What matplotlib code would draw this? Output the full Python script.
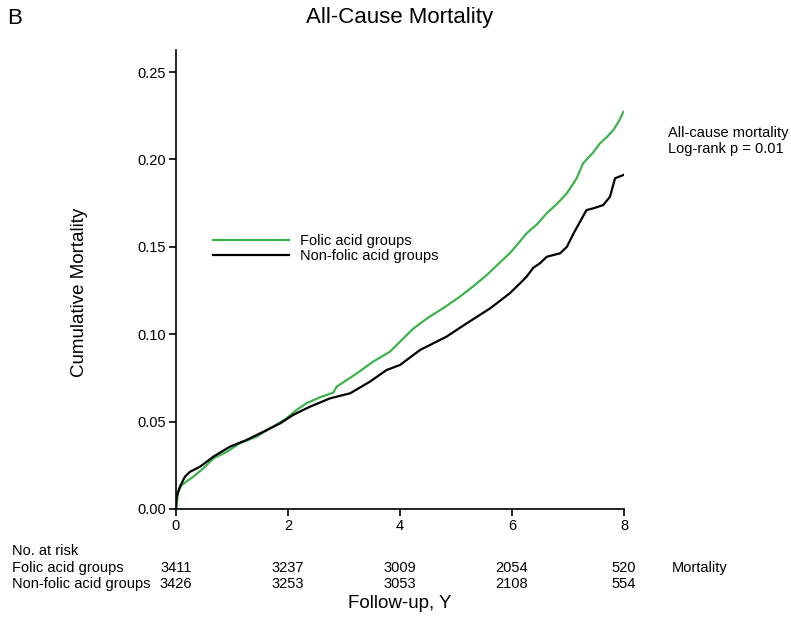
import matplotlib
matplotlib.use("Agg")
import matplotlib.pyplot as plt
import matplotlib.transforms as mtransforms

plt.rcParams['font.family'] = ['Liberation Sans', 'DejaVu Sans']

# follow-up (years) and cumulative mortality
folic_t = [0, 0.04, 0.10, 0.31, 0.49, 0.67, 0.91, 1.14, 1.44, 1.68, 1.95, 2.15,
           2.33, 2.57, 2.81, 2.87, 3.05, 3.23, 3.52, 3.82, 4.06, 4.23, 4.48, 4.80,
           5.07, 5.30, 5.55, 5.75, 5.96, 6.14, 6.26, 6.45, 6.62, 6.80, 6.98, 7.15,
           7.27, 7.45, 7.57, 7.70, 7.81, 7.92, 7.99]
folic_v = [0, 0.0099, 0.0137, 0.0185, 0.0233, 0.029, 0.0328, 0.0376, 0.0414, 0.0462,
           0.0513, 0.0566, 0.0605, 0.0639, 0.0666, 0.070, 0.0738, 0.0776, 0.0843,
           0.090, 0.0976, 0.1030, 0.109, 0.1155, 0.1215, 0.1272, 0.1339, 0.1400,
           0.1463, 0.1530, 0.1577, 0.1630, 0.1692, 0.1745, 0.1806, 0.1890, 0.1978,
           0.2040, 0.2092, 0.2130, 0.2168, 0.2225, 0.2273]

nonfolic_t = [0, 0.01, 0.07, 0.16, 0.25, 0.43, 0.67, 0.96, 1.26, 1.56, 1.86, 2.09,
              2.39, 2.75, 3.11, 3.46, 3.76, 4.00, 4.36, 4.83, 5.19, 5.61, 5.96, 6.14,
              6.26, 6.38, 6.50, 6.62, 6.86, 6.98, 7.10, 7.33, 7.45, 7.63, 7.75, 7.84,
              7.99]
nonfolic_v = [0, 0.007, 0.0128, 0.0185, 0.0213, 0.0242, 0.030, 0.0356, 0.0395,
              0.0442, 0.049, 0.0538, 0.0585, 0.0633, 0.0662, 0.0728, 0.0795, 0.0824,
              0.091, 0.0986, 0.1062, 0.1148, 0.1234, 0.129, 0.1329, 0.138, 0.1406,
              0.1443, 0.1463, 0.150, 0.1577, 0.171, 0.172, 0.1739, 0.1787, 0.1892,
              0.1911]

risk_times = [0, 2, 4, 6, 8]
risk_folic = [3411, 3237, 3009, 2054, 520]
risk_nonfolic = [3426, 3253, 3053, 2108, 554]

W, H = 791, 627
fig = plt.figure(figsize=(W / 100, H / 100), dpi=100)
ax = fig.add_axes([176 / W, 1 - 509 / H, (624 - 176) / W, (509 - 50) / H])

ax.plot(folic_t, folic_v, color='#3cb44b', lw=1.6, label='Folic acid groups')
ax.plot(nonfolic_t, nonfolic_v, color='black', lw=1.6, label='Non-folic acid groups')

ax.set_xlim(0, 8)
ax.set_ylim(0, 0.2626)
ax.set_xticks([0, 2, 4, 6, 8])
ax.set_yticks([0, 0.05, 0.10, 0.15, 0.20, 0.25])
ax.set_yticklabels(['0.00', '0.05', '0.10', '0.15', '0.20', '0.25'])
for s in ['top', 'right']:
    ax.spines[s].set_visible(False)
for s in ['left', 'bottom']:
    ax.spines[s].set_linewidth(1.2)
ax.tick_params(direction='out', length=5, width=1.2, labelsize=10.5, pad=2)

ax.legend(loc='upper left', bbox_to_anchor=(213 / W, 1 - 234 / H),
          bbox_transform=fig.transFigure, frameon=False, fontsize=10.5,
          handlelength=5.2, handletextpad=0.75, labelspacing=0.1,
          borderpad=0, borderaxespad=0)

fig.text(15 / W, 1 - 18 / H, 'B', fontsize=16, va='center', ha='center')
fig.text(400 / W, 1 - 18 / H, 'All-Cause Mortality', fontsize=16,
         va='center', ha='center')
fig.text(80 / W, 1 - 292 / H, 'Cumulative Mortality', fontsize=13.5,
         rotation=90, va='center', ha='center')
fig.text(400 / W, 1 - 604 / H, 'Follow-up, Y', fontsize=13.5,
         va='center', ha='center')

fig.text(668 / W, 1 - 133 / H, 'All-cause mortality', fontsize=10.5, va='center')
fig.text(668 / W, 1 - 149 / H, 'Log-rank p = 0.01', fontsize=10.5, va='center')

# number at risk table
trans = mtransforms.blended_transform_factory(ax.transData, fig.transFigure)
fig.text(12 / W, 1 - 551 / H, 'No. at risk', fontsize=10.5, va='center')
fig.text(12 / W, 1 - 568 / H, 'Folic acid groups', fontsize=10.5, va='center')
fig.text(12 / W, 1 - 584 / H, 'Non-folic acid groups', fontsize=10.5, va='center')
for t, a, b in zip(risk_times, risk_folic, risk_nonfolic):
    ax.text(t, 1 - 568 / H, str(a), transform=trans, fontsize=10.5,
            ha='center', va='center')
    ax.text(t, 1 - 584 / H, str(b), transform=trans, fontsize=10.5,
            ha='center', va='center')
fig.text(672 / W, 1 - 568 / H, 'Mortality', fontsize=10.5, va='center')

fig.savefig('out.png', dpi=100)
